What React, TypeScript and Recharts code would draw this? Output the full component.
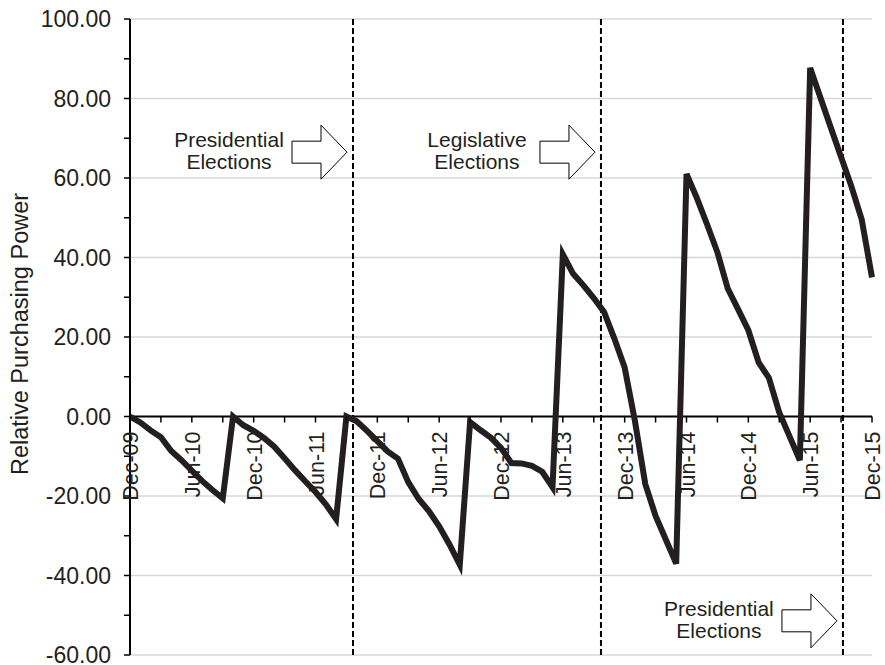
import React from 'react';
import { LineChart, Line, XAxis, YAxis, CartesianGrid, ReferenceLine, ReferenceDot } from 'recharts';

// Monthly relative purchasing power, Dec-09 (index 0) to Dec-15 (index 72)
const values: number[] = [
  0, -1.5, -3.5, -5.2, -8.7, -11.0, -13.6, -16.2, -18.5, -20.6,
  0, -2.2, -3.6, -5.4, -7.6, -10.5, -13.5, -16.3, -19.0, -22.1, -25.8,
  0, -1.2, -3.6, -6.2, -8.8, -10.6, -16.5, -20.7, -23.8, -27.6, -32.2, -37.3,
  -1.4, -3.4, -5.3, -7.9, -11.7, -11.8, -12.4, -13.9, -17.8,
  40.8, 35.9, 33.0, 29.8, 26.3, 19.6, 12.3, -1.2, -17.0, -25.0, -31.0, -37.0,
  61.0, 55.0, 48.3, 41.3, 32.2, 27.0, 21.7, 13.6, 9.7, 1.0, -5.0, -11.0,
  87.7, 80.2, 72.7, 65.3, 57.9, 49.6, 35.0,
];

const tickMonths: number[] = [0, 3, 6, 9, 12, 15, 18, 21, 24, 27, 30, 33, 36, 39, 42, 45, 48, 51, 54, 57, 60, 63, 66, 69, 72];
const tickLabels: string[] = ['Dec-09', 'Jun-10', 'Dec-10', 'Jun-11', 'Dec-11', 'Jun-12', 'Dec-12', 'Jun-13', 'Dec-13', 'Jun-14', 'Dec-14', 'Jun-15', 'Dec-15'];

const yTicks: number[] = [-60, -50, -40, -30, -20, -10, 0, 10, 20, 30, 40, 50, 60, 70, 80, 90, 100];
const gridValues: number[] = [-60, -40, -20, 20, 40, 60, 80, 100];

const electionMonths: number[] = [21.64, 45.7, 69.18];
const annotationY: number[] = [66.5, 66.5, -51.4];
const annotationText: string[][] = [
  ['Presidential', 'Elections'],
  ['Legislative', 'Elections'],
  ['Presidential', 'Elections'],
];

const data = values.map((v, i) => ({ m: i, v }));

const FONT = "'Liberation Sans', Arial, sans-serif";
const INK = '#231f20';

const makeXTick = (idx: number) => (props: any) => {
  const { cx, cy } = props;
  const label = idx % 2 === 0 ? tickLabels[idx / 2] : null;
  return (
    <g>
      <line x1={cx} y1={cy} x2={cx} y2={cy + 6} stroke="#000" strokeWidth={1.5} />
      {label && (
        <text
          transform={`translate(${cx + 1},${cy + 15}) rotate(-90)`}
          textAnchor="end"
          dominantBaseline="central"
          fontSize={21.5}
          fontFamily={FONT}
          fill={INK}
        >
          {label}
        </text>
      )}
    </g>
  );
};

const makeAnnotation = (idx: number) => (props: any) => {
  const { cx, cy } = props;
  const tip = cx - 6;
  const headL = 26;
  const bodyL = 29;
  const headH = 27;
  const bodyH = 11;
  const hx = tip - headL;
  const bx = hx - bodyL;
  const pts = `${bx},${cy - bodyH} ${hx},${cy - bodyH} ${hx},${cy - headH} ${tip},${cy} ${hx},${cy + headH} ${hx},${cy + bodyH} ${bx},${cy + bodyH}`;
  const tx = tip - 118;
  const lines = annotationText[idx];
  return (
    <g>
      <polygon points={pts} fill="#fff" stroke="#000" strokeWidth={1} />
      <text x={tx} y={cy - 5} textAnchor="middle" fontSize={21} fontFamily={FONT} fill={INK}>{lines[0]}</text>
      <text x={tx} y={cy + 17} textAnchor="middle" fontSize={21} fontFamily={FONT} fill={INK}>{lines[1]}</text>
    </g>
  );
};

const YTitle = (props: any) => {
  const vb = props.viewBox || { x: 0, y: 19, width: 130, height: 636 };
  const x = vb.x + 20;
  const y = vb.y + vb.height / 2 - 3;
  return (
    <text
      transform={`translate(${x},${y}) rotate(-90)`}
      textAnchor="middle"
      dominantBaseline="central"
      fontSize={23.5}
      fontFamily={FONT}
      fill={INK}
    >
      Relative Purchasing Power
    </text>
  );
};

export default function App() {
  return (
    <div style={{ position: 'absolute', left: 0, top: 0, background: '#fff' }}>
      <LineChart
        width={885}
        height={665}
        data={data}
        margin={{ top: 19, right: 13, bottom: 10, left: 0 }}
        style={{ fontFamily: FONT }}
      >
        <CartesianGrid horizontal vertical={false} horizontalValues={gridValues} stroke="#d5d7dd" strokeWidth={1.5} />
        <XAxis dataKey="m" type="number" domain={[0, 72]} hide />
        <YAxis
          type="number"
          domain={[-60, 100]}
          ticks={yTicks}
          interval={0}
          width={130}
          tickFormatter={(v: number) => (v % 20 === 0 ? v.toFixed(2) : '')}
          tick={{ fontSize: 23, fill: INK, fontFamily: FONT }}
          tickSize={6}
          tickMargin={13}
          axisLine={{ stroke: '#000', strokeWidth: 2 }}
          tickLine={{ stroke: '#000', strokeWidth: 1.5 }}
          label={YTitle}
        />
        <ReferenceLine y={0} stroke="#000" strokeWidth={2} />
        {electionMonths.map((m, i) => (
          <ReferenceLine key={'e' + i} x={m} stroke="#000" strokeWidth={2} strokeDasharray="6 3" />
        ))}
        {tickMonths.map((m, i) => (
          <ReferenceDot key={'t' + i} x={m} y={0} r={0} ifOverflow="visible" shape={makeXTick(i)} />
        ))}
        {electionMonths.map((m, i) => (
          <ReferenceDot key={'a' + i} x={m} y={annotationY[i]} r={0} ifOverflow="visible" shape={makeAnnotation(i)} />
        ))}
        <Line
          type="linear"
          dataKey="v"
          stroke={INK}
          strokeWidth={6}
          dot={false}
          activeDot={false}
          isAnimationActive={false}
        />
      </LineChart>
    </div>
  );
}
